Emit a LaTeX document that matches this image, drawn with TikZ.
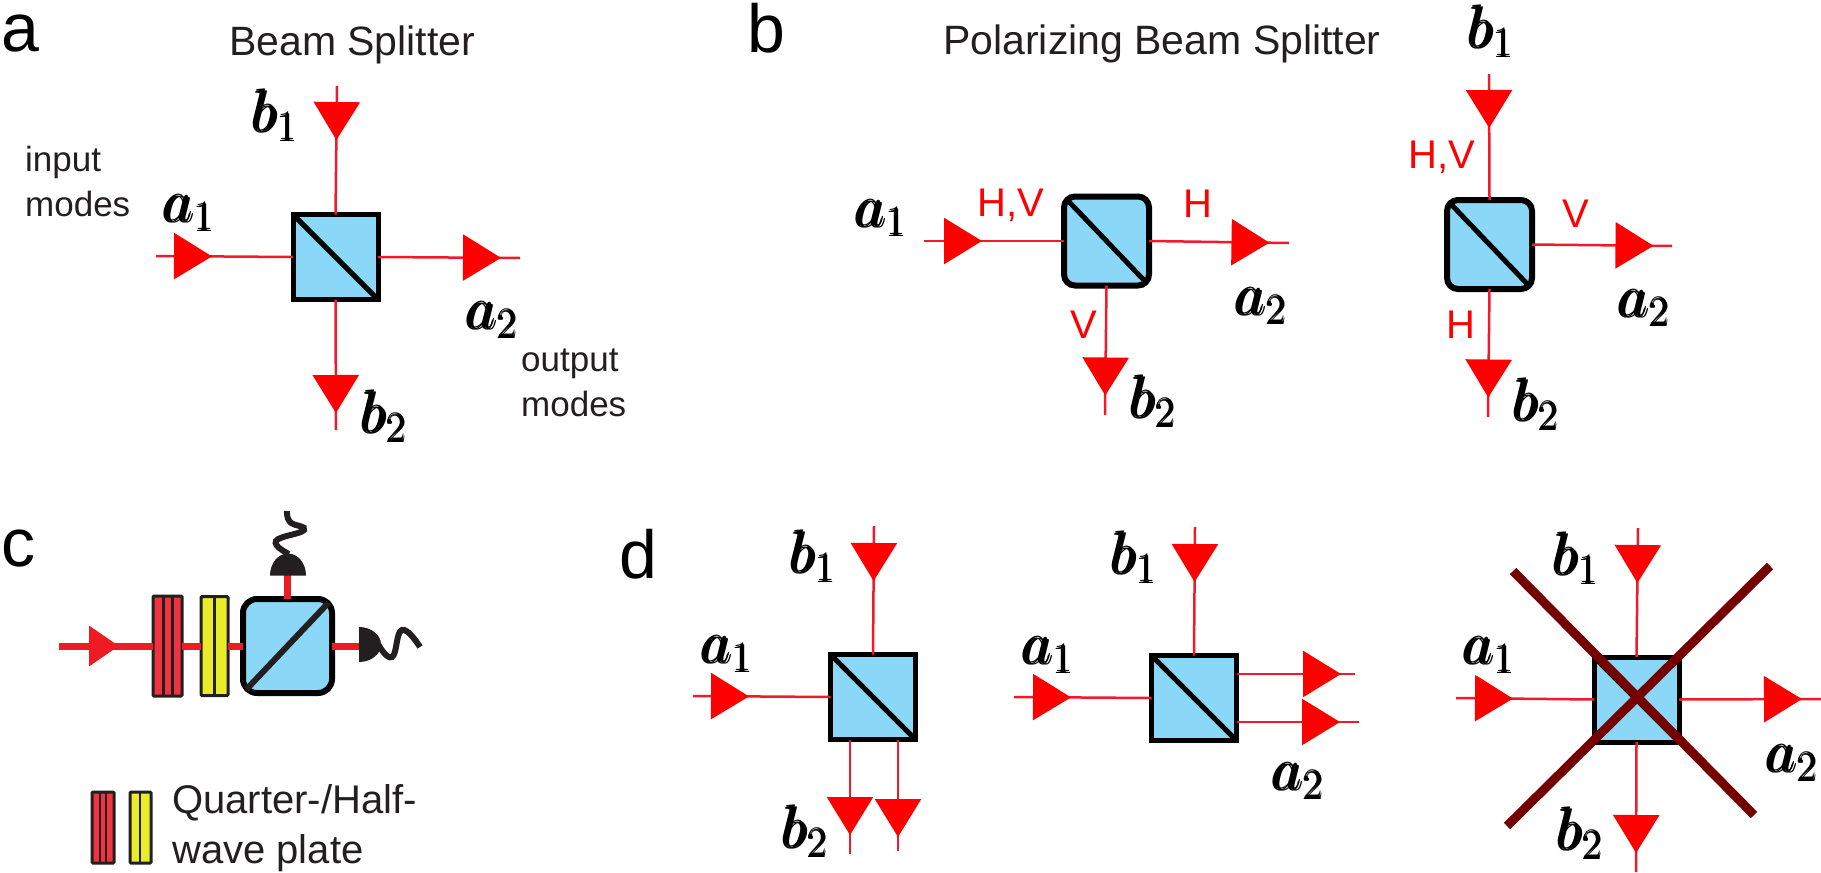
\RequirePackage{fix-cm}
\documentclass[tikz,border=0pt]{standalone}
\usepackage{amsbsy}
\usepackage{fontspec}
\setmainfont{Liberation Sans}
\usetikzlibrary{arrows.meta,decorations.markings}

\definecolor{cube}{HTML}{8AD7F8}
\definecolor{beamred}{HTML}{F01A2C}
\definecolor{thickred}{HTML}{ED1C24}
\definecolor{platered}{HTML}{EF3340}
\definecolor{plateyellow}{HTML}{E8EC29}
\definecolor{inkgrey}{HTML}{231F20}
\definecolor{crossred}{HTML}{750000}

\newcommand{\md}[2]{$\pmb{#1}_{\pmb{#2}}$}

\tikzset{
  beam/.style={draw=beamred, line width=2.5pt,
    decoration={markings, mark=at position #1pt with
      {\arrow{Triangle[length=38pt,width=46pt,color=red]}}},
    postaction={decorate}},
  thickbeam/.style={draw=thickred, line width=7pt},
  inbeam/.style={thickbeam,
    decoration={markings, mark=at position #1pt with
      {\arrow{Triangle[length=30pt,width=39pt,color=thickred]}}},
    postaction={decorate}},
  bs/.style={rectangle, draw=black, fill=cube, line width=5pt, inner sep=0pt,
    outer sep=0pt, minimum size=85pt},
  bsr/.style={bs, line width=6pt, rounded corners=11pt, minimum width=85pt, minimum height=89pt},
  diag/.style={line width=5pt},
  plate/.style={rectangle, draw=inkgrey, line width=3pt, rounded corners=1pt,
    inner sep=0pt, outer sep=0pt},
  wire/.style={draw=inkgrey, line width=6pt},
  crossout/.style={draw=crossred, line width=9pt},
  mode/.style={font=\fontsize{60}{62}\selectfont, anchor=base west, inner sep=0pt},
  panel/.style={font=\fontsize{68}{70}\selectfont, anchor=base west, inner sep=0pt},
  title/.style={font=\fontsize{41}{46}\selectfont, anchor=base west, inner sep=0pt, text=inkgrey},
  side/.style={font=\fontsize{35}{45}\selectfont, anchor=base west, inner sep=0pt, text=inkgrey},
  pol/.style={font=\fontsize{40}{44}\selectfont, anchor=base west, inner sep=0pt, text=red},
  legend/.style={font=\fontsize{40}{50}\selectfont, anchor=base west, inner sep=0pt, text=inkgrey}
}

\begin{document}
\begin{tikzpicture}[x=1pt,y=-1pt]
\useasboundingbox (0,0) rectangle (1821,873);

% Panel letters and titles
\node[panel] (panelA) at (1,51) {a};
\node[panel] (panelB) at (747,52) {b};
\node[panel] (panelC) at (1,566) {c};
\node[panel] (panelD) at (619,578) {d};
\node[title] (titleA) at (229,55) {Beam Splitter};
\node[title] (titleB) at (943,54) {Polarizing Beam Splitter};

% a: beam splitter
\node[bs] (bsA) at (335.5,257) {};
\coordinate (aIn) at (156,256);
\coordinate (aOut) at (520,258);
\coordinate (bIn) at (337,86);
\coordinate (bOut) at (336,430);
\draw[beam=56] (aIn) -- (bsA.west);
\draw[beam=54] (bIn) -- (bsA.north);
\draw[beam=123] (bsA.east) -- (aOut);
\draw[beam=113.5] (bsA.south) -- (bOut);
\draw[diag] (bsA.north west) -- (bsA.south east);
\node[mode] (aA1) at (164,222) {\md{a}{1}};
\node[mode] (aB1) at (253,132) {\md{b}{1}};
\node[mode] (aA2) at (467,329) {\md{a}{2}};
\node[mode] (aB2) at (362,433) {\md{b}{2}};
\node[side, align=left, anchor=north west] (inLabel) at (25,146) {input\\modes};
\node[side, align=left, anchor=north west] (outLabel) at (521,349) {output\\modes};

% b: polarizing beam splitter, horizontal input
\node[bsr] (pbsH) at (1106.5,241) {};
\coordinate (hIn) at (924,241);
\coordinate (hOut) at (1289,243);
\coordinate (hDown) at (1105,415);
\draw[beam=58] (hIn) -- (pbsH.west);
\draw[beam=120.5] (pbsH.east) -- (hOut);
\draw[beam=110] (pbsH.south) -- (hDown);
\draw[diag, shorten <=4pt, shorten >=4pt] (pbsH.north west) -- (pbsH.south east);
\node[pol] (hHV) at (977,216) {H,V};
\node[pol] (hH) at (1183,217) {H};
\node[pol] (hV) at (1070,338) {V};
\node[mode] (hA1) at (856,227) {\md{a}{1}};
\node[mode] (hA2) at (1236,315) {\md{a}{2}};
\node[mode] (hB2) at (1131,418) {\md{b}{2}};

% b: polarizing beam splitter, vertical input
\node[bsr] (pbsV) at (1489.5,244.5) {};
\coordinate (vIn) at (1489,74);
\coordinate (vOut) at (1672,246);
\coordinate (vDown) at (1488,417);
\draw[beam=54] (vIn) -- (pbsV.north);
\draw[beam=121.5] (pbsV.east) -- (vOut);
\draw[beam=108.5] (pbsV.south) -- (vDown);
\draw[diag, shorten <=4pt, shorten >=4pt] (pbsV.north west) -- (pbsV.south east);
\node[pol] (vHV) at (1408,168) {H,V};
\node[pol] (vV) at (1562,227) {V};
\node[pol] (vH) at (1446,338) {H};
\node[mode] (vB1) at (1469,48) {\md{b}{1}};
\node[mode] (vA2) at (1619,317) {\md{a}{2}};
\node[mode] (vB2) at (1514,421) {\md{b}{2}};

% c: measurement setup
\coordinate (cIn) at (59,646);
\coordinate (cTop) at (287.5,575);
\coordinate (cRight) at (359,646);
\node[plate, fill=platered, minimum width=29pt, minimum height=100pt] (qwp) at (167.5,646) {};
\node[plate, fill=plateyellow, minimum width=27pt, minimum height=99pt] (hwp) at (214.5,646) {};
\node[bsr, line width=6pt, rounded corners=14pt, minimum width=89pt, minimum height=94pt] (bsC) at (287.5,646) {};
\draw[inbeam=60] (cIn) -- (qwp.west);
\draw[thickbeam] (qwp.east) -- (hwp.west);
\draw[thickbeam] (hwp.east) -- (bsC.west);
\draw[thickbeam] (bsC.north) -- (cTop);
\draw[thickbeam] (bsC.east) -- (cRight);
\foreach \x in {163,172} \draw[inkgrey, line width=3pt] (\x,596) -- (\x,696);
\draw[inkgrey, line width=3pt] (214,596) -- (214,695);
\draw[line width=6pt, draw=inkgrey, shorten <=5pt, shorten >=5pt] (bsC.south west) -- (bsC.north east);
% detectors
\fill[inkgrey] (270,575.5) arc[start angle=180,end angle=0,x radius=18pt,y radius=22pt] -- cycle;
\fill[inkgrey] (359,627) arc[start angle=90,end angle=-90,x radius=22pt,y radius=17.5pt] -- cycle;
\draw[wire] plot[smooth, tension=0.8] coordinates {(287,511) (290,522) (304,530) (276,541) (289,554)};
\draw[wire] plot[smooth, tension=0.8] coordinates {(378,644) (392,657) (402,630) (420,647)};

% legend of panel c
\node[plate, fill=platered, minimum width=22pt, minimum height=71pt] (legQ) at (103,827.5) {};
\node[plate, fill=plateyellow, minimum width=21pt, minimum height=71pt] (legH) at (140.5,827.5) {};
\foreach \x in {100,106} \draw[inkgrey, line width=2.5pt] (\x,793) -- (\x,862);
\draw[inkgrey, line width=2.5pt] (140,793) -- (140,862);
\node[legend] (legText) at (172,813) {Quarter-/Half-};
\node[legend] (legText2) at (172,863) {wave plate};

% d: first splitter, both outputs down
\node[bs] (bsD) at (873,697) {};
\coordinate (dIn) at (693,696);
\coordinate (dTop) at (874,526);
\coordinate (dOutL) at (850,854);
\coordinate (dOutR) at (898,851);
\draw[beam=56] (dIn) -- (bsD.west);
\draw[beam=55] (dTop) -- (bsD.north);
\draw[beam=95.5] ([xshift=-23pt]bsD.south) -- (dOutL);
\draw[beam=97.5] ([xshift=25pt]bsD.south) -- (dOutR);
\draw[diag] (bsD.north west) -- (bsD.south east);
\node[mode] (dA1) at (702,663) {\md{a}{1}};
\node[mode] (dB1) at (791,573) {\md{b}{1}};
\node[mode] (dB2) at (783,848) {\md{b}{2}};

% d: second splitter, both outputs right
\node[bs] (bsE) at (1194,698) {};
\coordinate (eIn) at (1014,697);
\coordinate (eTop) at (1195,527);
\coordinate (eOutU) at (1355,674);
\coordinate (eOutL) at (1359,722);
\draw[beam=57] (eIn) -- (bsE.west);
\draw[beam=55] (eTop) -- (bsE.north);
\draw[beam=104.5] ([yshift=24pt]bsE.east) -- (eOutU);
\draw[beam=103.5] ([yshift=-24pt]bsE.east) -- (eOutL);
\draw[diag] (bsE.north west) -- (bsE.south east);
\node[mode] (eA1) at (1023,664) {\md{a}{1}};
\node[mode] (eB1) at (1112,574) {\md{b}{1}};
\node[mode] (eA2) at (1273,790) {\md{a}{2}};

% d: third splitter, crossed out
\node[bs] (bsF) at (1636.5,699.5) {};
\coordinate (fIn) at (1456,698);
\coordinate (fTop) at (1638,528);
\coordinate (fOut) at (1821,699);
\coordinate (fDown) at (1636,872);
\draw[beam=57] (fIn) -- (bsF.west);
\draw[beam=55] (fTop) -- (bsF.north);
\draw[beam=123] (bsF.east) -- (fOut);
\draw[beam=111] (bsF.south) -- (fDown);
\draw[diag] (bsF.north west) -- (bsF.south east);
\draw[crossout] (1513,571) -- (1754,815);
\draw[crossout] (1507,826) -- (1770,566);
\node[mode] (fA1) at (1464,664) {\md{a}{1}};
\node[mode] (fB1) at (1554,575) {\md{b}{1}};
\node[mode] (fA2) at (1767,772) {\md{a}{2}};
\node[mode] (fB2) at (1558,850) {\md{b}{2}};

\end{tikzpicture}
\end{document}
